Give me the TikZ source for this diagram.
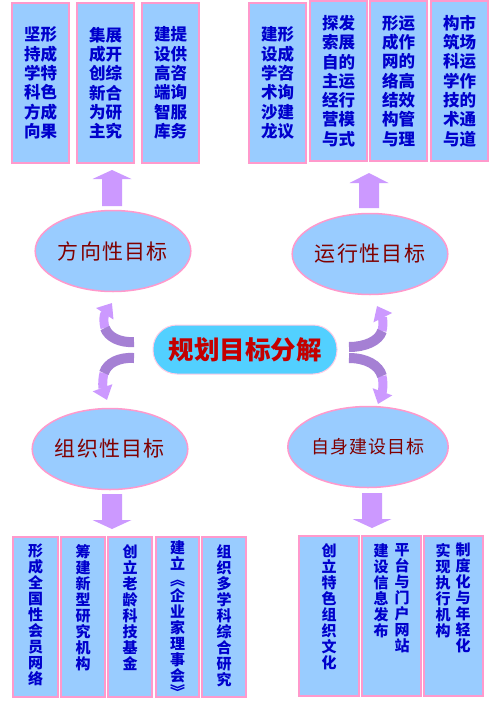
\documentclass[tikz,border=0pt]{standalone}
\usepackage{fontspec}
\setmainfont{Noto Sans CJK SC}
\newfontfamily\cjk{Noto Sans CJK SC}
\newfontfamily\goalfont{Noto Sans CJK SC}[LetterSpace=6]
\usetikzlibrary{arrows.meta,shapes.geometric}
\definecolor{boxfill}{RGB}{153,204,255}
\definecolor{rimpink}{RGB}{255,153,204}
\definecolor{boxink}{RGB}{0,0,204}
\definecolor{goalink}{RGB}{128,0,0}
\definecolor{hubfill}{RGB}{82,208,255}
\definecolor{hubink}{RGB}{196,0,0}
\definecolor{arrlilac}{RGB}{204,153,255}
\definecolor{arrdeep}{RGB}{165,128,212}
\lineskiplimit=-100pt
\tikzset{
  tbox/.style    = {draw=rimpink, line width=1.5pt, fill=boxfill, minimum width=57pt,
                    minimum height=160pt, inner sep=0pt, text=boxink, align=center,
                    font=\cjk\bfseries\fontsize{16.5}{19.3}\selectfont},
  bbox/.style    = {draw=rimpink, line width=1.5pt, fill=boxfill, minimum height=160pt, inner sep=0pt},
  coltxt/.style  = {font=\cjk\bfseries\fontsize{15}{16}\selectfont, text=boxink, align=center,
                    anchor=north, inner sep=0pt},
  goal/.style    = {ellipse, draw=rimpink, line width=1.5pt, fill=boxfill, minimum width=154pt,
                    minimum height=81pt, inner sep=0pt, text=goalink,
                    font=\goalfont\fontsize{21}{24}\selectfont},
  hub/.style     = {draw=rimpink!50, line width=1pt, fill=hubfill, rounded corners=24pt,
                    minimum width=184pt, minimum height=49pt, inner sep=0pt, text=hubink,
                    font=\cjk\bfseries\fontsize{25.5}{30}\selectfont},
  bendroot/.style= {draw=arrdeep, line width=10pt},
  bendtip/.style = {draw=arrlilac, line width=9pt, -{Triangle[length=13pt,width=20pt]}},
}
% block arrow: x of axis, y of tail, y of head base, y of tip
\newcommand{\blockarr}[4]{\fill[arrlilac] (#1-10,#2) -- (#1-10,#3) -- (#1-19.5,#3) -- (#1,#4)
  -- (#1+19.5,#3) -- (#1+10,#3) -- (#1+10,#2) -- cycle;}

\begin{document}
\begin{tikzpicture}[x=1pt,y=-1pt]
\useasboundingbox (0,0) rectangle (496,705);
\fill[white] (0,0) rectangle (496,705);

% ---------------- top row of boxes
\node[tbox] (dirA) at (40.5,83)  {坚形\\持成\\学特\\科色\\方成\\向果};
\node[tbox] (dirB) at (105.5,83) {集展\\成开\\创综\\新合\\为研\\主究};
\node[tbox] (dirC) at (170.5,83) {建提\\设供\\高咨\\端询\\智服\\库务};

\node[tbox] (opA) at (277.5,83) {建形\\设成\\学咨\\术询\\沙建\\龙议};
\node[tbox] (opB) at (338.5,81) {探发\\索展\\自的\\主运\\经行\\营模\\与式};
\node[tbox] (opC) at (398.5,81) {形运\\成作\\网的\\络高\\结效\\构管\\与理};
\node[tbox] (opD) at (459.5,81) {构市\\筑场\\科运\\学作\\技的\\术通\\与道};

% ---------------- goals and hub
\node[goal] (dirgoal) at (113,251) {方向性目标};
\node[goal] (opgoal)  at (370,254) {运行性目标};
\node[goal] (orggoal) at (110,449) {组织性目标};
\node[goal, font=\goalfont\fontsize{18}{20}\selectfont] (selfgoal) at (368,447) {自身建设目标};
\node[hub] (plan) at (245,349.5) {规划目标分解};

% block arrows between goals and boxes
\blockarr{112}{206}{179}{170}
\blockarr{369}{208}{183}{173}
\blockarr{112}{494}{520}{529}
\blockarr{372}{493}{519}{528}

% ---------------- curved arrows out of the hub
\coordinate (lu0) at (134,342); \coordinate (lu1) at (105,328); \coordinate (lu2) at (112,303);
\coordinate (ll0) at (134,358); \coordinate (ll1) at (104,373); \coordinate (ll2) at (107,400);
\coordinate (ru0) at (349,347); \coordinate (ru1) at (382,331); \coordinate (ru2) at (377,306);
\coordinate (rl0) at (349,358); \coordinate (rl1) at (382,376); \coordinate (rl2) at (378,404);
\draw[bendtip]  (lu1) .. controls (103,320) and (104,315) .. (lu2);
\draw[bendroot] (lu0) .. controls (120,343) and (108,337) .. (lu1);
\draw[bendtip]  (ll1) .. controls (102,381) and (103,389) .. (ll2);
\draw[bendroot] (ll0) .. controls (119,357) and (107,363) .. (ll1);
\draw[bendtip]  (ru1) .. controls (384,323) and (382,316) .. (ru2);
\draw[bendroot] (ru0) .. controls (365,347) and (379,341) .. (ru1);
\draw[bendtip]  (rl1) .. controls (384,385) and (382,393) .. (rl2);
\draw[bendroot] (rl0) .. controls (366,358) and (379,365) .. (rl1);

% ---------------- bottom left boxes
\node[bbox, minimum width=45pt] (orgA) at (35.5,617) {};
\node[bbox, minimum width=44pt] (orgB) at (83,617)   {};
\node[bbox, minimum width=44pt] (orgC) at (130,617)  {};
\node[bbox, minimum width=43pt] (orgD) at (177.5,617){};
\node[bbox, minimum width=44pt] (orgE) at (224,617)  {};
\node[coltxt] at (35.5,544)  {形\\成\\全\\国\\性\\会\\员\\网\\络};
\node[coltxt] at (83,544)    {筹\\建\\新\\型\\研\\究\\机\\构};
\node[coltxt] at (130,544)   {创\\立\\老\\龄\\科\\技\\基\\金};
\node[coltxt] at (177.5,540) {建\\立\\︽\\企\\业\\家\\理\\事\\会\\︾};
\node[coltxt] at (224,544)   {组\\织\\多\\学\\科\\综\\合\\研\\究};

% ---------------- bottom right boxes
\node[bbox, minimum width=60pt] (selfA) at (329,616)   {};
\node[bbox, minimum width=59pt] (selfB) at (391.5,616) {};
\node[bbox, minimum width=59pt] (selfC) at (453.5,616) {};
\node[coltxt] at (329,543) {创\\立\\特\\色\\组\\织\\文\\化};
\node[coltxt] at (402,543) {平\\台\\与\\门\\户\\网\\站};
\node[coltxt] at (381,543) {建\\设\\信\\息\\发\\布};
\node[coltxt] at (463,543) {制\\度\\化\\与\\年\\轻\\化};
\node[coltxt] at (443,543) {实\\现\\执\\行\\机\\构};

\end{tikzpicture}
\end{document}
